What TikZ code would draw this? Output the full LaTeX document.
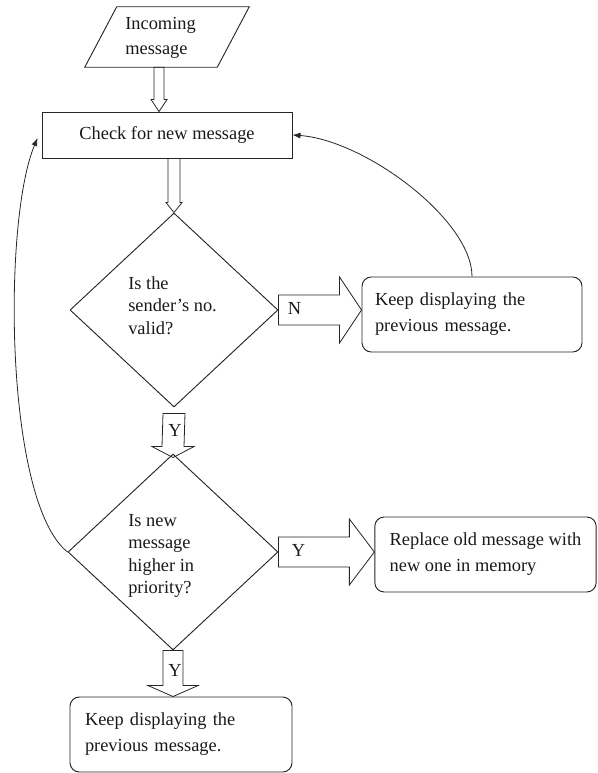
\documentclass[tikz,border=0pt]{standalone}
\usepackage{fontspec}
\setmainfont{Liberation Serif}
\usetikzlibrary{shapes.geometric,arrows.meta,calc}
\tikzset{
  ln/.style={draw=black!85, line width=0.7pt},
  txt/.style={font=\fontsize{13.8}{16.9}\selectfont, text=black!90, inner sep=0pt, align=left},
  rbox/.style={ln, rectangle, rounded corners=7pt, minimum height=56.25pt, align=left,
     font=\fontsize{13.8}{19.5}\selectfont, text=black!90, inner ysep=0pt},
  dia/.style={ln, diamond, inner sep=0pt},
  hol/.style={draw=black!85, line width=0.6pt, line join=miter},
  fb/.style={draw=black!85, line width=0.6pt, -{Latex[length=6pt,width=4.5pt]}},
  lbl/.style={font=\fontsize{13.8}{16}\selectfont, inner sep=0pt, text=black!90},
}
% hollow arrow pointing down: #1 start, #2 tip, #3 shaft half width, #4 head half width, #5 head length
\newcommand\varrowh[5]{\draw[hol] ($(#1)+(-#3,0)$) -- ($(#2)+(-#3,-#5)$) -- ($(#2)+(-#4,-#5)$) -- (#2)
   -- ($(#2)+(#4,-#5)$) -- ($(#2)+(#3,-#5)$) -- ($(#1)+(#3,0)$) -- cycle;}
% hollow arrow pointing right
\newcommand\harrowh[5]{\draw[hol] ($(#1)+(0,-#3)$) -- ($(#2)+(-#5,-#3)$) -- ($(#2)+(-#5,-#4)$) -- (#2)
   -- ($(#2)+(-#5,#4)$) -- ($(#2)+(-#5,#3)$) -- ($(#1)+(0,#3)$) -- cycle;}
\begin{document}
\begin{tikzpicture}[x=0.75pt,y=-0.75pt]
\useasboundingbox (0,0) rectangle (597,773);

% input parallelogram
\node[rectangle, minimum width=99pt, minimum height=45pt, inner sep=0pt] (par) at (167,37) {};
\draw[ln] ($(par.north west)+(16,0)$) -- ($(par.north east)+(16,0)$)
   -- ($(par.south east)+(-16,0)$) -- ($(par.south west)+(-16,0)$) -- cycle;
\node[txt, anchor=west, font=\fontsize{13.8}{18.75}\selectfont] (partxt) at (125,37.5) {Incoming\\message};

\node[ln, rectangle, minimum width=187.5pt, minimum height=34.5pt, inner sep=0pt,
      font=\fontsize{13.8}{16}\selectfont, text=black!90] (chk) at (167,135) {Check for new message};

\node[dia, minimum width=156pt, minimum height=145.5pt] (d1) at (174,310) {};
\node[txt, anchor=west] (d1txt) at (128,305.5) {Is the\\sender's no.\\valid?};

\node[dia, minimum width=157.5pt, minimum height=147pt] (d2) at (173,552) {};
\node[txt, anchor=west] (d2txt) at (128,556) {Is new\\message\\higher in\\priority?};

\node[rbox, minimum width=165pt, text width=145.5pt, inner xsep=9.75pt] (box1) at (472,314.5)
  {Keep displaying the\\previous message.};
\node[rbox, minimum width=166pt] (box2) at (485.5,554.5)
  {Replace old message with\\new one in memory};
\node[rbox, minimum width=166.5pt, text width=144pt, inner xsep=11.25pt] (bot) at (181,734.5)
  {Keep displaying the\\previous message.};

% hollow arrows
\coordinate (a1s) at (159,0 |- par.south);
\coordinate (a1t) at (159,0 |- chk.north);
\varrowh{a1s}{a1t}{5}{8}{12}

\coordinate (a2s) at (174,0 |- chk.south);
\coordinate (a2t) at (174,0 |- d1.north);
\varrowh{a2s}{a2t}{6}{8}{10}

\coordinate (a3s) at ($(d1.south)+(0,6)$);
\coordinate (a3t) at ($(d2.north)+(0,4)$);
\varrowh{a3s}{a3t}{11}{21}{11}
\node[lbl] (y1) at ($(a3s)+(1,17)$) {Y};

\coordinate (a4s) at (d2.south);
\coordinate (a4t) at (d2.south |- bot.north);
\varrowh{a4s}{a4t}{10}{25}{11}
\node[lbl] (y3) at ($(a4s)+(2,20)$) {Y};

\coordinate (a5s) at (d1.east);
\coordinate (a5t) at (box1.west |- d1.east);
\harrowh{a5s}{a5t}{15}{33}{22}
\node[lbl] (n1) at ($(d1.east)+(16,-2)$) {N};

\coordinate (a6s) at (d2.east);
\coordinate (a6t) at (box2.west |- d2.east);
\harrowh{a6s}{a6t}{15}{33}{25}
\node[lbl] (y2) at ($(d2.east)+(20,-2)$) {Y};

% feedback curves
\draw[fb] (box1.north) .. controls +(0,-57) and +(72,5) .. (chk.east);
\draw[fb] (d2.west) .. controls +(-63,-50) and +(-35,83) .. ($(chk.west)+(-4,3)$);
\end{tikzpicture}
\end{document}
